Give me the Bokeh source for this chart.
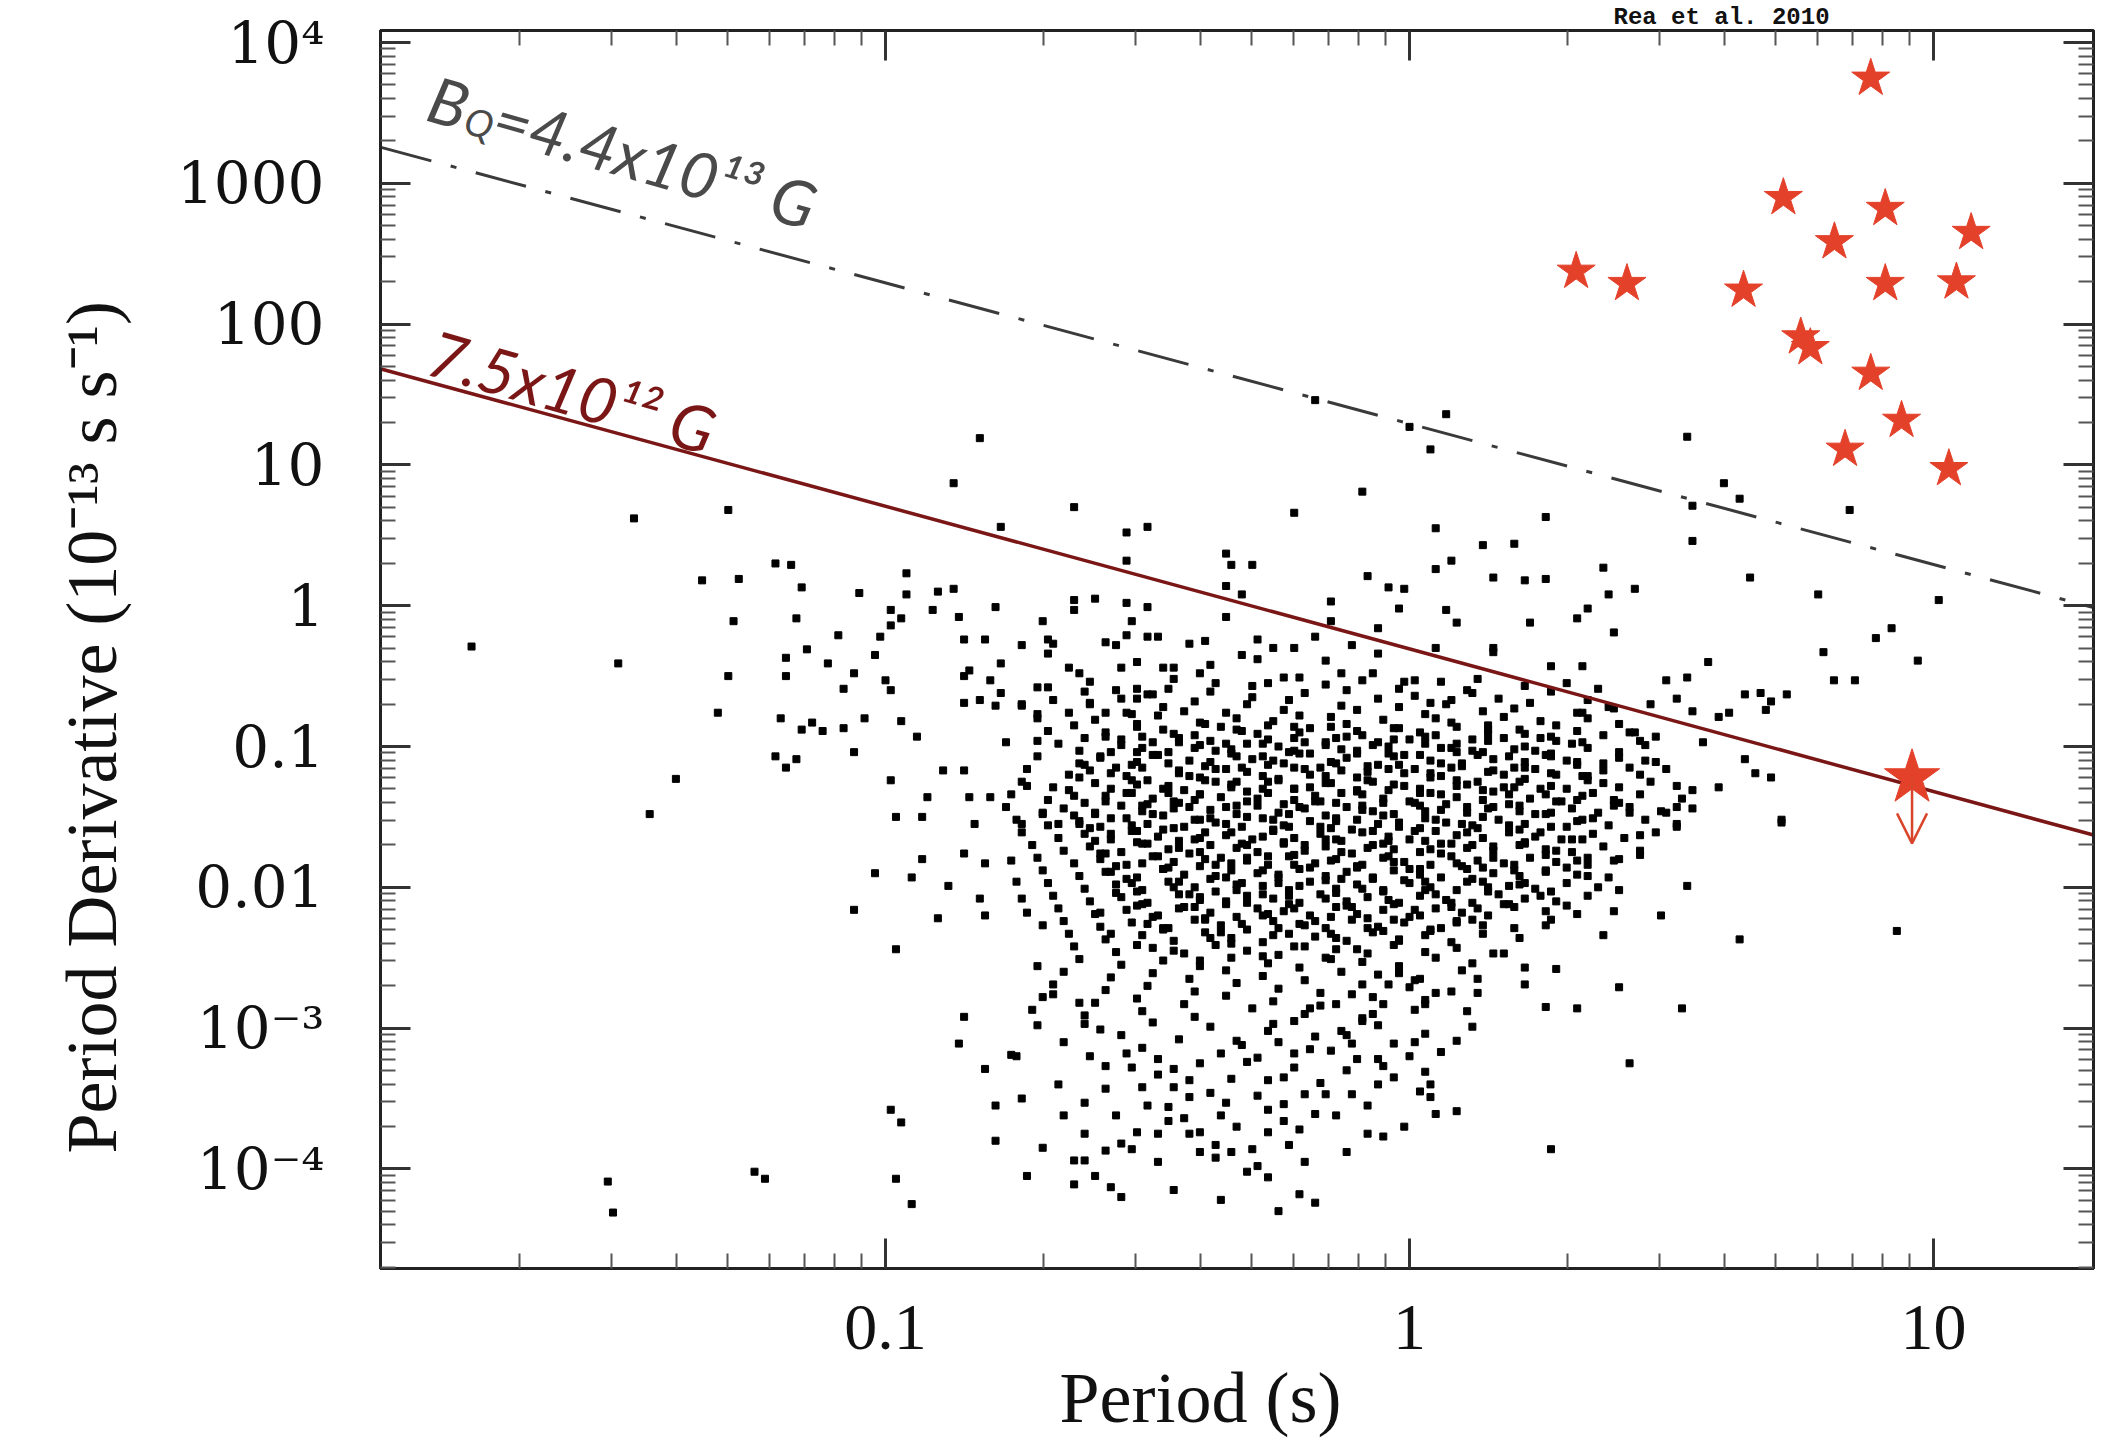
import math
from bokeh.plotting import figure
from bokeh.layouts import column
from bokeh.models import (Range1d, FixedTicker, LogAxis, Label, Arrow, OpenHead, Title, Div,
                          CustomJSTickFormatter, ColumnDataSource)
from bokeh.embed import file_html
from bokeh.resources import INLINE

# ---------------- data ----------------
x_tick_values = [0.1, 1, 10]
x_tick_labels = ["0.1", "1", "10"]
y_tick_values = [1e-4, 1e-3, 0.01, 0.1, 1, 10, 100, 1000, 1e4]
y_tick_labels = ["10\u207b\u2074", "10\u207b\u00b3", "0.01", "0.1", "1", "10", "100", "1000", "10\u2074"]

# magnetars (red stars): period [s], period derivative [1e-13 s/s]
magnetar_period = [7.59, 5.17, 8.09, 11.8, 6.47, 2.08, 2.60, 4.34, 8.09, 11.06, 5.58, 5.82, 7.59, 8.69, 6.78, 10.7]
magnetar_pdot = [5570, 791, 662, 447, 384, 237, 194, 174, 194, 199, 81, 68, 44.7, 20.7, 12.9, 9.4]
# SGR 0418+5729 upper limit (big star + arrow)
sgr_period = [9.1]
sgr_pdot = [0.060]
sgr_arrow_end = [0.0205]

# field lines
bq_line_period = [0.0109, 20.2]
bq_line_pdot = [1800, 0.97]
b75_line_period = [0.0109, 20.2]
b75_line_pdot = [48, 0.0235]

# radio pulsars: (log10 P, log10 Pdot)
pulsar_log_points = [
    # sparse, upper middle
    (-0.82,1.19),(-0.87,0.87),(-0.64,0.70),(-0.78,0.56),(-0.54,0.52),(-0.50,0.56),(-0.54,0.32),(-0.35,0.37),(-0.34,0.29),(-0.30,0.29),
    (-0.35,0.14),(-0.32,0.08),(-0.35,-0.08),(-0.22,0.66),(-0.09,0.81),(0.07,1.36),(0.04,1.11),(-0.18,1.46),(0.00,1.27),(0.05,0.55),
    (0.14,0.43),(0.20,0.44),(0.16,0.20),(0.05,0.26),(0.08,0.32),(-0.08,0.21),(-0.04,0.13),(-0.01,0.12),(-0.02,-0.02),(-0.15,0.03),
    (0.07,-0.03),(0.09,-0.12),(-0.06,-0.16),(-0.15,-0.11),(-0.18,-0.22),(0.16,-0.30),(0.16,-0.33),(-0.06,-0.34),(-0.11,-0.28),(0.05,-0.30),
    (0.11,-0.60),(0.08,-0.67),(-0.01,-0.54),(0.01,-0.53),(-0.07,-0.48),(-0.13,-0.48),(-0.16,-0.39),(-0.21,-0.51),(-0.27,-0.55),(-0.29,-0.38),
    (-0.29,-0.24),(-0.26,-0.30),(-0.22,-0.30),(-0.32,-0.35),(-0.39,-0.25),(-0.42,-0.27),(-0.38,-0.42),(-0.40,-0.48),(-0.46,-0.59),(-0.50,-0.63),
    (-0.52,-0.66),(-0.56,-0.60),(-0.55,-0.44),(-0.52,-0.40),(-0.47,-0.44),(-0.45,-0.44),(-0.50,-0.22),(-0.48,-0.22),(-0.54,-0.21),(-0.56,-0.28),
    (-0.58,-0.26),(-0.53,-0.11),(-0.64,0.04),(-0.60,0.05),(-0.64,-0.03),(-0.54,0.02),(-0.50,-0.01),(-0.70,-0.11),(-0.79,-0.01),(-0.86,-0.08),
    (-0.87,0.12),(-0.85,-0.24),(-0.81,-0.24),(-0.74,-0.28),(-0.69,-0.24),(-0.68,-0.27),(-0.69,-0.34),(-0.78,-0.41),(-0.85,-0.50),(-0.84,-0.46),
    (-0.71,-0.58),(-0.65,-0.44),(-0.63,-0.48),(-0.79,-0.71),(-0.85,-0.69),(-0.82,-0.67),(-0.74,-0.70),(-0.71,-0.77),(-0.61,-0.69),(-0.58,-0.76),
    (-0.54,-0.76),(-0.77,-0.97),(-0.71,-0.96),(-0.85,-1.17),(-0.80,-1.36),(-0.84,-1.36),(-0.83,-1.55),(-0.73,-1.28),(-0.70,-1.48),(-0.74,-1.55),
    (-0.67,-1.55),(-0.63,-1.55),
    # left side
    (-1.48,0.62),(-1.30,0.68),(-1.79,-0.29),(-1.51,-0.41),(-1.35,0.18),(-1.28,0.19),(-1.21,0.30),(-1.18,0.29),(-1.16,0.13),(-1.29,-0.11),
    (-1.17,-0.09),(-1.05,0.09),(-0.96,0.23),(-0.96,0.08),(-0.90,0.10),(-0.91,-0.03),(-0.99,-0.03),(-0.97,-0.09),(-0.99,-0.14),(-1.09,-0.21),
    (-1.01,-0.22),(-1.15,-0.31),(-1.19,-0.37),(-1.02,-0.35),(-1.11,-0.41),(-1.30,-0.50),(-1.19,-0.50),(-1.06,-0.48),(-1.08,-0.59),(-1.00,-0.53),
    (-0.99,-0.60),(-1.32,-0.76),(-1.20,-0.80),(-1.16,-0.88),(-1.14,-0.83),(-1.12,-0.89),(-1.08,-0.87),(-1.04,-0.80),(-0.97,-0.82),(-0.94,-0.93),
    (-1.21,-1.07),(-1.17,-1.09),(-1.19,-1.15),(-1.06,-1.04),(-0.89,-1.17),(-1.40,-1.23),(-0.99,-1.24),(-1.45,-1.48),(-0.98,-1.50),(-0.93,-1.50),
    (-0.92,-1.36),
    (-1.53,-4.09),(-1.52,-4.31),(-1.25,-4.02),(-1.23,-4.07),(-0.98,-4.07),(-0.95,-4.25),(-0.99,-3.58),(-0.97,-3.67),(-1.06,-2.16),(-1.02,-1.90),
    (-0.95,-1.93),(-0.93,-1.80),(-0.90,-2.22),(-0.98,-2.44),(-0.88,-1.99),
    # right tail
    (0.53,1.20),(0.60,0.87),(0.63,0.76),(0.54,0.71),(0.84,0.68),(0.26,0.63),(0.54,0.46),(0.37,0.27),(0.65,0.20),(0.26,0.19),
    (0.22,0.18),(0.78,0.08),(1.01,0.04),(0.38,0.08),(0.43,0.12),(0.34,-0.02),(0.32,-0.09),(0.23,-0.12),(0.39,-0.19),(0.92,-0.16),
    (0.89,-0.23),(0.79,-0.33),(0.97,-0.39),(0.57,-0.40),(0.27,-0.43),(0.33,-0.43),(0.49,-0.53),(0.53,-0.51),(0.81,-0.53),(0.85,-0.53),
    (0.36,-0.59),(0.51,-0.66),(0.54,-0.75),(0.64,-0.63),(0.67,-0.62),(0.72,-0.63),(0.69,-0.68),(0.68,-0.74),(0.61,-0.76),(0.59,-0.79),
    (0.46,-0.70),(0.39,-0.73),(0.33,-0.76),(0.56,-0.97),(0.64,-1.09),(0.66,-1.19),(0.69,-1.22),(0.54,-1.31),(0.59,-1.29),(0.71,-1.52),
    (0.51,-1.43),(0.49,-1.47),(0.42,-1.47),(0.40,-1.40),(0.47,-0.93),(0.45,-1.10),(0.44,-0.96),(0.42,-0.90),
    (0.51,-1.57),(0.71,-1.54),(0.53,-1.99),(0.48,-2.20),(0.63,-2.37),(0.93,-2.31),(0.52,-2.86),(0.42,-3.25),(0.27,-3.86),(0.40,-2.71),
    (0.32,-2.86),(0.26,-2.85),(0.28,-2.58),(0.37,-2.34),(0.39,-2.17),(0.40,-2.02),(0.44,-1.77),(0.39,-1.81),(0.44,-1.63),(0.34,-1.92),
    (0.32,-1.81),(0.26,-2.27),(0.30,-2.13),(0.22,-2.57),(0.22,-2.69),
    # lower part
    (-0.25,-4.30),(-0.18,-4.24),(-0.21,-4.18),(-0.45,-4.15),(-0.55,-4.20),(-0.57,-4.13),(-0.60,-4.05),(-0.64,-4.11),(-0.73,-4.05),(-0.64,-3.94),
    (-0.62,-3.94),(-0.79,-3.80),(-0.58,-3.87),(-0.55,-3.82),(-0.53,-3.86),(-0.52,-3.74),(-0.48,-3.75),(-0.46,-3.66),(-0.42,-3.75),(-0.40,-3.74),
    (-0.37,-3.83),(-0.37,-3.92),(-0.34,-3.88),(-0.30,-3.86),(-0.29,-3.98),(-0.27,-4.06),(-0.23,-3.83),(-0.27,-3.74),(-0.24,-3.66),(-0.24,-3.54),
    (-0.08,-3.75),(-0.05,-3.77),(0.05,-3.61),(0.09,-3.59),(0.04,-3.49),(0.04,-3.40),(0.03,-3.31),(-0.18,-3.61),(-0.20,-3.47),(-0.16,-3.47),
    (-0.11,-3.47),(-0.06,-3.40),(-0.12,-3.30),(-0.05,-3.27),(-0.06,-3.22),(-0.36,-3.62),(-0.35,-3.53),(-0.38,-3.46),(-0.42,-3.49),(-0.46,-3.56),
    (-0.51,-3.42),(-0.58,-3.43),(-0.62,-3.53),(-0.66,-3.62),(-0.67,-3.40),(-0.74,-3.50),(-0.79,-3.55),(-0.81,-3.29),(-0.75,-3.20),(-0.86,-3.11),
    (-0.85,-2.92),(-0.68,-2.76),(-0.63,-2.82),(-0.61,-3.20),(-0.59,-3.01),(-0.54,-3.18),(-0.53,-3.28),(-0.48,-3.33),(-0.48,-3.22),(-0.45,-3.29),
    (-0.42,-3.37),(-0.36,-3.18),(-0.33,-3.09),(-0.31,-3.24),(-0.29,-3.21),(-0.27,-3.37),(-0.24,-3.35),(-0.27,-3.02),(-0.25,-3.10),(-0.22,-3.18),
    (-0.22,-2.95),(-0.19,-2.86),(-0.18,-3.06),(-0.15,-3.16),(-0.13,-3.02),(-0.11,-3.11),(-0.09,-2.95),(-0.07,-2.90),(-0.14,-2.83),(-0.11,-2.76),
    (-0.05,-2.83),(-0.03,-3.11),(0.01,-3.10),(0.03,-3.04),(0.06,-3.17),(0.09,-3.09),(0.12,-2.99),(0.11,-2.88),(0.13,-2.75),(0.05,-2.75),
    (0.03,-2.83),(0.01,-2.66),(0.13,-2.65),(0.18,-2.47),(-0.04,-2.69),(-0.02,-2.61),
    (-0.85,-1.76),(-0.81,-1.83),(-0.82,-2.08),(-0.81,-2.20),(-0.76,-1.81),(-0.75,-1.96),(-0.74,-2.08),(-0.73,-2.18),(-0.70,-2.27),(-0.71,-2.56),
    (-0.76,-3.19),
    (-0.62,-2.97),(-0.55,-3.05),(-0.49,-2.96),(-0.44,-3.08),(-0.38,-2.99),(-0.32,-3.12),(-0.26,-2.97),(-0.19,-3.15),(-0.12,-3.05),(-0.06,-2.98),
    (0.00,-3.20),(-0.58,-3.27),(-0.51,-3.14),(-0.45,-3.42),(-0.40,-3.25),(-0.34,-3.36),(-0.29,-3.48),(-0.22,-3.28),(-0.17,-3.39),(-0.10,-3.22),
    (-0.03,-3.35),(0.02,-3.45),(-0.56,-3.62),(-0.50,-3.55),(-0.43,-3.64),(-0.33,-3.70),(-0.27,-3.58),(-0.21,-3.72),(-0.14,-3.62),(-0.08,-3.55),
    (-0.01,-3.70),(-0.48,-3.95),(-0.40,-3.88),(-0.31,-4.02),(-0.20,-3.95),(-0.12,-3.88),(-0.36,-4.22),(-0.70,-3.85),(-0.62,-3.75),(-0.71,-2.98),
    (-0.66,-3.10),
    # dense core
    (-0.80,-0.53),(-0.69,-0.58),(-0.61,-0.54),(-0.52,-0.59),(-0.45,-0.52),(-0.37,-0.55),(-0.30,-0.57),(-0.24,-0.51),(-0.16,-0.56),(-0.09,-0.53),
    (-0.02,-0.59),(0.06,-0.54),(0.13,-0.52),(0.22,-0.57),(0.30,-0.55),
    (-0.78,-0.62),(-0.68,-0.67),(-0.62,-0.61),(-0.55,-0.66),(-0.49,-0.63),(-0.41,-0.68),(-0.38,-0.61),(-0.30,-0.65),(-0.23,-0.67),(-0.20,-0.62),
    (-0.12,-0.60),(-0.06,-0.66),(0.01,-0.64),(0.04,-0.69),(0.12,-0.62),(0.17,-0.66),(0.27,-0.61),(0.34,-0.67),
    (-0.74,-0.71),(-0.65,-0.76),(-0.61,-0.70),(-0.53,-0.77),(-0.47,-0.72),(-0.43,-0.75),(-0.35,-0.76),(-0.31,-0.70),(-0.24,-0.74),(-0.21,-0.78),
    (-0.13,-0.71),(-0.10,-0.74),(-0.02,-0.72),(0.03,-0.77),(0.07,-0.70),(0.14,-0.75),(0.20,-0.73),(0.23,-0.69),(0.32,-0.76),(0.38,-0.72),
    (-0.71,-0.80),(-0.64,-0.85),(-0.60,-0.81),(-0.52,-0.84),(-0.48,-0.78),(-0.40,-0.83),(-0.36,-0.86),(-0.33,-0.80),(-0.26,-0.82),(-0.22,-0.86),
    (-0.15,-0.79),(-0.12,-0.84),(-0.05,-0.81),(-0.02,-0.87),(0.05,-0.80),(0.08,-0.83),(0.15,-0.85),(0.18,-0.79),(0.25,-0.82),(0.28,-0.85),
    (0.34,-0.80),(0.40,-0.84),
    (-0.69,-0.89),(-0.62,-0.94),(-0.58,-0.90),(-0.51,-0.93),(-0.47,-0.88),(-0.41,-0.92),(-0.38,-0.96),(-0.32,-0.89),(-0.29,-0.91),(-0.22,-0.94),
    (-0.19,-0.87),(-0.12,-0.93),(-0.10,-0.89),(-0.03,-0.95),(0.02,-0.90),(0.05,-0.92),(0.12,-0.95),(0.15,-0.88),(0.22,-0.91),(0.25,-0.94),
    (0.32,-0.89),(0.37,-0.92),(0.43,-0.90),
    (-0.67,-0.98),(-0.63,-1.03),(-0.55,-0.99),(-0.52,-1.04),(-0.44,-0.97),(-0.41,-1.01),(-0.34,-1.05),(-0.31,-0.98),(-0.25,-1.00),(-0.23,-1.04),
    (-0.16,-0.97),(-0.13,-1.02),(-0.07,-0.99),(-0.04,-1.05),(0.03,-0.98),(0.06,-1.01),(0.12,-1.03),(0.15,-0.96),(0.22,-1.00),(0.24,-1.03),
    (0.31,-0.98),(0.34,-1.01),(0.40,-1.04),(0.45,-0.99),
    (-0.71,-1.07),(-0.63,-1.12),(-0.59,-1.08),(-0.52,-1.11),(-0.49,-1.06),(-0.42,-1.10),(-0.39,-1.14),(-0.33,-1.07),(-0.30,-1.09),(-0.24,-1.12),
    (-0.21,-1.05),(-0.15,-1.11),(-0.12,-1.08),(-0.06,-1.13),(-0.03,-1.07),(0.04,-1.10),(0.06,-1.12),(0.13,-1.06),(0.16,-1.09),(0.22,-1.11),
    (0.27,-1.07),(0.30,-1.10),(0.37,-1.12),(0.40,-1.08),(0.47,-1.11),
    (-0.73,-1.16),(-0.65,-1.20),(-0.61,-1.17),(-0.54,-1.21),(-0.51,-1.15),(-0.44,-1.19),(-0.40,-1.22),(-0.37,-1.16),(-0.31,-1.18),(-0.28,-1.21),
    (-0.22,-1.15),(-0.19,-1.20),(-0.13,-1.17),(-0.10,-1.22),(-0.04,-1.16),(-0.01,-1.19),(0.06,-1.21),(0.08,-1.15),(0.15,-1.18),(0.18,-1.20),
    (0.24,-1.16),(0.27,-1.19),(0.34,-1.21),(0.37,-1.17),(0.44,-1.20),(0.49,-1.16),
    (-0.74,-1.25),(-0.68,-1.29),(-0.60,-1.26),(-0.57,-1.30),(-0.50,-1.24),(-0.46,-1.28),(-0.43,-1.31),(-0.37,-1.25),(-0.34,-1.27),(-0.28,-1.30),
    (-0.25,-1.24),(-0.19,-1.29),(-0.16,-1.26),(-0.10,-1.31),(-0.07,-1.25),(-0.01,-1.28),(0.02,-1.30),(0.09,-1.24),(0.11,-1.27),(0.18,-1.29),
    (0.21,-1.25),(0.27,-1.28),(0.30,-1.30),(0.37,-1.26),(0.40,-1.29),(0.46,-1.25),(0.51,-1.28),
    (-0.76,-1.34),(-0.69,-1.38),(-0.64,-1.35),(-0.58,-1.39),(-0.53,-1.33),(-0.49,-1.37),(-0.44,-1.40),(-0.40,-1.34),(-0.36,-1.36),(-0.31,-1.39),
    (-0.27,-1.33),(-0.22,-1.38),(-0.18,-1.35),(-0.14,-1.40),(-0.09,-1.34),(-0.05,-1.37),(0.00,-1.39),(0.04,-1.33),(0.09,-1.36),(0.14,-1.38),
    (0.19,-1.34),(0.23,-1.37),(0.29,-1.39),(0.33,-1.35),(0.39,-1.38),(0.44,-1.34),(0.52,-1.37),
    (-0.77,-1.43),(-0.70,-1.47),(-0.66,-1.44),(-0.60,-1.48),(-0.55,-1.42),(-0.51,-1.46),(-0.47,-1.49),(-0.42,-1.43),(-0.38,-1.45),(-0.33,-1.48),
    (-0.29,-1.42),(-0.25,-1.47),(-0.20,-1.44),(-0.16,-1.49),(-0.12,-1.43),(-0.07,-1.46),(-0.03,-1.48),(0.02,-1.42),(0.06,-1.45),(0.11,-1.47),
    (0.16,-1.43),(0.21,-1.46),(0.26,-1.48),(0.31,-1.44),(0.36,-1.47),(0.42,-1.43),(0.48,-1.46),(0.54,-1.44),
    (-0.75,-1.52),(-0.69,-1.56),(-0.63,-1.53),(-0.59,-1.57),(-0.54,-1.51),(-0.50,-1.55),(-0.45,-1.58),(-0.41,-1.52),(-0.37,-1.54),(-0.32,-1.57),
    (-0.28,-1.51),(-0.24,-1.56),(-0.19,-1.53),(-0.15,-1.58),(-0.10,-1.52),(-0.06,-1.55),(-0.02,-1.57),(0.03,-1.51),(0.07,-1.54),(0.12,-1.56),
    (0.17,-1.52),(0.22,-1.55),(0.27,-1.57),(0.32,-1.53),(0.38,-1.56),(0.45,-1.52),(0.51,-1.55),
    (-0.74,-1.61),(-0.67,-1.65),(-0.62,-1.62),(-0.57,-1.66),(-0.52,-1.60),(-0.48,-1.64),(-0.44,-1.67),(-0.39,-1.61),(-0.35,-1.63),(-0.30,-1.66),
    (-0.26,-1.60),(-0.22,-1.65),(-0.17,-1.62),(-0.13,-1.67),(-0.09,-1.61),(-0.04,-1.64),(0.00,-1.66),(0.05,-1.60),(0.09,-1.63),(0.14,-1.65),
    (0.19,-1.61),(0.24,-1.64),(0.29,-1.66),(0.35,-1.62),(0.41,-1.65),(0.47,-1.61),
    (-0.72,-1.70),(-0.66,-1.74),(-0.61,-1.71),(-0.55,-1.75),(-0.51,-1.69),(-0.46,-1.73),(-0.42,-1.76),(-0.38,-1.70),(-0.33,-1.72),(-0.29,-1.75),
    (-0.24,-1.69),(-0.20,-1.74),(-0.16,-1.71),(-0.11,-1.76),(-0.07,-1.70),(-0.03,-1.73),(0.02,-1.75),(0.06,-1.69),(0.11,-1.72),(0.16,-1.74),
    (0.21,-1.70),(0.26,-1.73),(0.31,-1.75),(0.37,-1.71),(0.44,-1.74),
    (-0.71,-1.79),(-0.64,-1.83),(-0.59,-1.80),(-0.54,-1.84),(-0.49,-1.78),(-0.45,-1.82),(-0.40,-1.85),(-0.36,-1.79),(-0.31,-1.81),(-0.27,-1.84),
    (-0.23,-1.78),(-0.18,-1.83),(-0.14,-1.80),(-0.10,-1.85),(-0.05,-1.79),(-0.01,-1.82),(0.04,-1.84),(0.08,-1.78),(0.13,-1.81),(0.18,-1.83),
    (0.23,-1.79),(0.28,-1.82),(0.34,-1.84),(0.40,-1.80),
    (-0.70,-1.88),(-0.63,-1.92),(-0.57,-1.89),(-0.52,-1.93),(-0.47,-1.87),(-0.43,-1.91),(-0.38,-1.94),(-0.34,-1.88),(-0.29,-1.90),(-0.25,-1.93),
    (-0.21,-1.87),(-0.16,-1.92),(-0.12,-1.89),(-0.07,-1.94),(-0.03,-1.88),(0.02,-1.91),(0.06,-1.93),(0.11,-1.87),(0.16,-1.90),(0.21,-1.92),
    (0.26,-1.88),(0.32,-1.91),(0.38,-1.93),
    (-0.69,-1.97),(-0.62,-2.01),(-0.56,-1.98),(-0.51,-2.02),(-0.46,-1.96),(-0.41,-2.00),(-0.37,-2.03),(-0.32,-1.97),(-0.28,-1.99),(-0.23,-2.02),
    (-0.19,-1.96),(-0.14,-2.01),(-0.10,-1.98),(-0.05,-2.03),(0.00,-1.97),(0.04,-2.00),(0.09,-2.02),(0.14,-1.96),(0.19,-1.99),(0.24,-2.01),
    (0.30,-1.97),(0.36,-2.00),
    (-0.68,-2.06),(-0.61,-2.10),(-0.55,-2.07),(-0.50,-2.11),(-0.44,-2.05),(-0.40,-2.09),(-0.35,-2.12),(-0.31,-2.06),(-0.26,-2.08),(-0.21,-2.11),
    (-0.17,-2.05),(-0.12,-2.10),(-0.08,-2.07),(-0.03,-2.12),(0.02,-2.06),(0.07,-2.09),(0.12,-2.11),(0.17,-2.05),(0.22,-2.08),(0.28,-2.10),
    (0.34,-2.06),
    (-0.67,-2.15),(-0.60,-2.19),(-0.54,-2.16),(-0.48,-2.20),(-0.43,-2.14),(-0.38,-2.18),(-0.33,-2.21),(-0.29,-2.15),(-0.24,-2.17),(-0.19,-2.20),
    (-0.14,-2.14),(-0.10,-2.19),(-0.05,-2.16),(0.00,-2.21),(0.05,-2.15),(0.10,-2.18),(0.15,-2.20),(0.20,-2.14),(0.26,-2.17),(0.32,-2.19),
    (-0.66,-2.24),(-0.59,-2.28),(-0.53,-2.25),(-0.47,-2.29),(-0.41,-2.23),(-0.36,-2.27),(-0.31,-2.30),(-0.26,-2.24),(-0.21,-2.26),(-0.16,-2.29),
    (-0.11,-2.23),(-0.06,-2.28),(-0.01,-2.25),(0.04,-2.30),(0.09,-2.24),(0.14,-2.27),(0.20,-2.29),(0.27,-2.23),
    (-0.65,-2.33),(-0.58,-2.37),(-0.51,-2.34),(-0.45,-2.38),(-0.39,-2.32),(-0.34,-2.36),(-0.28,-2.39),(-0.23,-2.33),(-0.18,-2.35),(-0.12,-2.38),
    (-0.07,-2.32),(-0.02,-2.37),(0.03,-2.34),(0.08,-2.39),(0.14,-2.33),(0.21,-2.36),
    (-0.64,-2.42),(-0.56,-2.46),(-0.49,-2.43),(-0.43,-2.47),(-0.37,-2.41),(-0.31,-2.45),(-0.25,-2.48),(-0.20,-2.42),(-0.14,-2.44),(-0.08,-2.47),
    (-0.03,-2.41),(0.03,-2.46),(0.09,-2.43),(0.16,-2.47),
    (-0.63,-2.51),(-0.55,-2.55),(-0.47,-2.52),(-0.40,-2.56),(-0.34,-2.50),(-0.27,-2.54),(-0.21,-2.57),(-0.15,-2.51),(-0.09,-2.53),(-0.02,-2.56),
    (0.05,-2.50),(0.12,-2.54),
    (-0.66,-2.60),(-0.57,-2.64),(-0.49,-2.61),(-0.42,-2.65),(-0.35,-2.59),(-0.28,-2.63),(-0.20,-2.66),(-0.13,-2.60),(-0.06,-2.62),(0.02,-2.65),
    (0.10,-2.59),
    (-0.68,-2.69),(-0.58,-2.73),(-0.50,-2.70),(-0.41,-2.74),(-0.33,-2.68),(-0.25,-2.72),(-0.17,-2.75),(-0.09,-2.69),(0.00,-2.71),(0.08,-2.74),
    (-0.70,-2.78),(-0.60,-2.82),(-0.52,-2.79),(-0.43,-2.83),(-0.35,-2.77),(-0.26,-2.81),(-0.17,-2.84),(-0.07,-2.78),(0.03,-2.80),
    (-0.72,-2.87),(-0.62,-2.91),(-0.51,-2.88),(-0.41,-2.92),(-0.30,-2.86),(-0.20,-2.90),(-0.09,-2.93),(0.01,-2.87),
    # extra core fill
    (-0.55,-0.95),(-0.49,-0.97),(-0.44,-0.94),(-0.35,-0.98),(-0.27,-0.95),(-0.20,-0.97),(-0.14,-0.94),(-0.06,-0.97),(0.00,-0.95),(0.09,-0.98),
    (0.18,-0.94),(0.28,-0.96),
    (-0.57,-1.04),(-0.48,-1.06),(-0.37,-1.03),(-0.28,-1.07),(-0.19,-1.05),(-0.10,-1.03),(-0.01,-1.06),(0.09,-1.04),(0.19,-1.07),(0.27,-1.05),
    (-0.62,-1.13),(-0.56,-1.15),(-0.46,-1.12),(-0.35,-1.16),(-0.27,-1.13),(-0.17,-1.15),(-0.08,-1.14),(0.01,-1.16),(0.10,-1.12),(0.20,-1.15),
    (0.32,-1.13),(0.42,-1.15),
    (-0.63,-1.22),(-0.53,-1.24),(-0.42,-1.21),(-0.33,-1.25),(-0.25,-1.23),(-0.16,-1.21),(-0.08,-1.24),(0.04,-1.22),(0.13,-1.25),(0.22,-1.23),
    (0.33,-1.21),
    (-0.65,-1.31),(-0.54,-1.33),(-0.47,-1.30),(-0.40,-1.34),(-0.31,-1.32),(-0.22,-1.30),(-0.13,-1.33),(-0.04,-1.31),(0.06,-1.34),(0.16,-1.32),
    (0.25,-1.30),(0.35,-1.33),
    (-0.62,-1.40),(-0.51,-1.42),(-0.45,-1.39),(-0.35,-1.43),(-0.24,-1.41),(-0.18,-1.39),(-0.09,-1.42),(0.01,-1.40),(0.11,-1.43),(0.19,-1.41),
    (0.28,-1.39),(0.39,-1.42),
    (-0.64,-1.49),(-0.57,-1.51),(-0.49,-1.48),(-0.40,-1.52),(-0.31,-1.50),(-0.23,-1.48),(-0.14,-1.51),(-0.05,-1.49),(0.05,-1.52),(0.14,-1.50),
    (0.24,-1.48),(0.35,-1.51),
    (-0.61,-1.58),(-0.53,-1.60),(-0.43,-1.57),(-0.34,-1.61),(-0.26,-1.59),(-0.17,-1.57),(-0.07,-1.60),(0.02,-1.58),(0.11,-1.61),(0.21,-1.59),
    (0.30,-1.57),
    (-0.60,-1.67),(-0.50,-1.69),(-0.41,-1.66),(-0.31,-1.70),(-0.24,-1.68),(-0.14,-1.66),(-0.05,-1.69),(0.03,-1.67),(0.12,-1.70),(0.22,-1.68),
    (0.33,-1.66),
    (-0.58,-1.76),(-0.48,-1.78),(-0.40,-1.75),(-0.31,-1.79),(-0.22,-1.77),(-0.13,-1.75),(-0.04,-1.78),(0.06,-1.76),(0.16,-1.79),(0.26,-1.77),
    (-0.56,-1.85),(-0.47,-1.87),(-0.37,-1.84),(-0.28,-1.88),(-0.19,-1.86),(-0.09,-1.84),(0.00,-1.87),(0.10,-1.85),(0.20,-1.88),(0.30,-1.86),
    (-0.54,-1.94),(-0.44,-1.96),(-0.35,-1.93),(-0.25,-1.97),(-0.16,-1.95),(-0.07,-1.93),(0.03,-1.96),(0.12,-1.94),(0.22,-1.97),
    (-0.52,-2.03),(-0.42,-2.05),(-0.33,-2.02),(-0.23,-2.06),(-0.14,-2.04),(-0.05,-2.02),(0.05,-2.05),(0.15,-2.03),(0.25,-2.06),
    (-0.51,-2.12),(-0.41,-2.14),(-0.31,-2.11),(-0.22,-2.15),(-0.12,-2.13),(-0.02,-2.11),(0.08,-2.14),(0.18,-2.12),
    (-0.49,-2.21),(-0.39,-2.23),(-0.28,-2.20),(-0.18,-2.24),(-0.08,-2.22),(0.02,-2.20),(0.12,-2.23),
    (-0.47,-2.30),(-0.36,-2.32),(-0.25,-2.29),(-0.15,-2.33),(-0.05,-2.31),(0.06,-2.29),
    # core, column-wise
    (-0.58,-0.93),(-0.59,-1.07),(-0.57,-1.19),(-0.58,-1.35),(-0.60,-1.47),(-0.57,-1.62),(-0.59,-1.76),(-0.58,-1.89),(-0.56,-2.04),(-0.59,-2.18),
    (-0.57,-2.33),
    (-0.52,-0.86),(-0.51,-1.01),(-0.53,-1.13),(-0.52,-1.27),(-0.50,-1.41),(-0.53,-1.56),(-0.52,-1.68),(-0.51,-1.83),(-0.53,-1.97),(-0.52,-2.13),
    (-0.50,-2.26),(-0.52,-2.41),
    (-0.45,-0.91),(-0.46,-1.04),(-0.44,-1.17),(-0.46,-1.33),(-0.45,-1.44),(-0.47,-1.59),(-0.44,-1.72),(-0.46,-1.86),(-0.45,-2.00),(-0.44,-2.15),
    (-0.46,-2.29),(-0.45,-2.45),
    (-0.39,-0.84),(-0.40,-0.99),(-0.38,-1.11),(-0.39,-1.24),(-0.41,-1.38),(-0.38,-1.51),(-0.40,-1.65),(-0.39,-1.80),(-0.37,-1.92),(-0.40,-2.07),
    (-0.39,-2.22),(-0.38,-2.36),(-0.40,-2.52),
    (-0.33,-0.88),(-0.34,-1.02),(-0.32,-1.15),(-0.34,-1.29),(-0.33,-1.42),(-0.35,-1.55),(-0.32,-1.69),(-0.34,-1.83),(-0.33,-1.98),(-0.35,-2.10),
    (-0.32,-2.26),(-0.34,-2.40),
    (-0.27,-0.85),(-0.28,-0.98),(-0.26,-1.10),(-0.27,-1.25),(-0.29,-1.37),(-0.26,-1.52),(-0.28,-1.64),(-0.27,-1.78),(-0.25,-1.91),(-0.28,-2.05),
    (-0.27,-2.19),(-0.26,-2.34),(-0.28,-2.49),
    (-0.21,-0.90),(-0.22,-1.03),(-0.20,-1.16),(-0.22,-1.30),(-0.21,-1.43),(-0.23,-1.57),(-0.20,-1.70),(-0.22,-1.84),(-0.21,-1.99),(-0.23,-2.12),
    (-0.20,-2.27),(-0.22,-2.42),
    (-0.15,-0.86),(-0.16,-0.99),(-0.14,-1.12),(-0.15,-1.26),(-0.17,-1.39),(-0.14,-1.53),(-0.16,-1.66),(-0.15,-1.81),(-0.13,-1.94),(-0.16,-2.08),
    (-0.15,-2.21),(-0.14,-2.36),(-0.16,-2.50),
    (-0.09,-0.92),(-0.10,-1.05),(-0.08,-1.18),(-0.10,-1.32),(-0.09,-1.45),(-0.11,-1.59),(-0.08,-1.72),(-0.10,-1.86),(-0.09,-2.01),(-0.11,-2.14),
    (-0.08,-2.29),(-0.10,-2.44),
    (-0.03,-0.87),(-0.04,-1.00),(-0.02,-1.13),(-0.03,-1.27),(-0.05,-1.40),(-0.02,-1.54),(-0.04,-1.67),(-0.03,-1.82),(-0.01,-1.95),(-0.04,-2.09),
    (-0.03,-2.23),(-0.02,-2.38),
    (0.03,-0.93),(0.02,-1.06),(0.04,-1.19),(0.02,-1.33),(0.03,-1.46),(0.01,-1.60),(0.04,-1.73),(0.02,-1.87),(0.03,-2.02),(0.01,-2.16),
    (0.04,-2.31),
    (0.09,-0.86),(0.08,-1.01),(0.10,-1.14),(0.09,-1.28),(0.07,-1.41),(0.10,-1.55),(0.08,-1.69),(0.09,-1.83),(0.11,-1.96),(0.08,-2.11),
    (0.09,-2.25),
    (0.15,-0.91),(0.14,-1.04),(0.16,-1.17),(0.14,-1.31),(0.15,-1.44),(0.13,-1.58),(0.16,-1.71),(0.14,-1.86),(0.15,-2.00),(0.13,-2.15),
    (0.21,-0.88),(0.20,-1.02),(0.22,-1.15),(0.20,-1.29),(0.21,-1.42),(0.19,-1.56),(0.22,-1.69),(0.20,-1.84),(0.21,-1.98),(0.19,-2.12),
    (0.27,-0.93),(0.26,-1.06),(0.28,-1.20),(0.26,-1.34),(0.27,-1.47),(0.25,-1.61),(0.28,-1.74),(0.26,-1.89),(0.27,-2.03),
    (0.33,-0.97),(0.32,-1.11),(0.34,-1.24),(0.32,-1.38),(0.33,-1.52),(0.31,-1.66),(0.34,-1.79),
]

# ---------------- layout geometry (pixels of the 2102x1445 page) ----------------
W, H = 2102, 1441                                  # plot canvas (a 4 px rule sits below)
FX0, FX1, FY0, FY1 = 380, 2093, 30, 1268          # frame edges
LX0, LX1 = (FX0 - 1409) / 524.0, (FX1 - 1409) / 524.0
LY_TOP, LY_BOT = 4 - (FY0 - 42) / 140.8, 4 - (FY1 - 42) / 140.8


def at(xp, yp):
    """page pixel -> data coordinates (for annotation placement)"""
    lx = LX0 + (xp - FX0) / (FX1 - FX0) * (LX1 - LX0)
    ly = LY_TOP - (yp - FY0) / (FY1 - FY0) * (LY_TOP - LY_BOT)
    return 10 ** lx, 10 ** ly


p = figure(width=W, height=H, x_axis_type="log", y_axis_type="log",
           x_range=Range1d(10 ** LX0, 10 ** LX1), y_range=Range1d(10 ** LY_BOT, 10 ** LY_TOP),
           output_backend="svg", toolbar_location=None,
           min_border_left=FX0, min_border_right=W - FX1, min_border_top=FY0, min_border_bottom=H - FY1,
           background_fill_color="white", border_fill_color="white")
p.xgrid.visible = False
p.ygrid.visible = False
p.outline_line_color = "#222222"
p.outline_line_width = 3

x_minor = [m * 10 ** e for e in (-2, -1, 0) for m in range(2, 10)]
y_minor = [m * 10 ** e for e in range(-5, 4) for m in range(2, 10)]
xticker = FixedTicker(ticks=x_tick_values, minor_ticks=x_minor)
yticker = FixedTicker(ticks=y_tick_values, minor_ticks=y_minor)

top_axis = LogAxis()
right_axis = LogAxis()
p.add_layout(top_axis, "above")
p.add_layout(right_axis, "right")

for ax in (p.below[0], top_axis):
    ax.ticker = xticker
for ax in (p.left[0], right_axis):
    ax.ticker = yticker

for ax in (p.below[0], top_axis, p.left[0], right_axis):
    ax.major_tick_in = 30
    ax.major_tick_out = 0
    ax.minor_tick_in = 15
    ax.minor_tick_out = 0
    ax.major_tick_line_width = 3
    ax.minor_tick_line_width = 2
    ax.major_tick_line_color = "#333333"
    ax.minor_tick_line_color = "#555555"
    ax.axis_line_color = "#222222"
    ax.axis_line_width = 3

for ax in (top_axis, right_axis):
    ax.major_label_text_font_size = "1px"
    ax.major_label_text_alpha = 0.0
    ax.major_label_standoff = 0

xa = p.below[0]
xa.formatter = CustomJSTickFormatter(args=dict(labels=x_tick_labels),
                                     code="return labels[Math.round(Math.log10(tick)) + 1];")
xa.major_label_text_font = "Liberation Serif"
xa.major_label_text_font_size = "66px"
xa.major_label_text_color = "#111111"
xa.major_label_standoff = 37

ya = p.left[0]
ya.formatter = CustomJSTickFormatter(args=dict(labels=y_tick_labels),
                                     code="return labels[Math.round(Math.log10(tick)) + 4];")
ya.major_label_text_font = "DejaVu Serif"
ya.major_label_text_font_size = "58px"
ya.major_label_text_color = "#111111"
ya.major_label_standoff = 56

# axis titles and the header text live in the side panels
p.add_layout(Title(text="Period (s)", align="left", offset=1059 - FX0, standoff=8,
                   text_font="Liberation Serif", text_font_style="normal", text_font_size="72px",
                   text_color="#111111"), "below")
p.add_layout(Title(text="Period Derivative (10\u207b\u00b9\u00b3 s s\u207b\u00b9)", align="left",
                   offset=FY1 - 1153, standoff=84, text_font="Liberation Serif", text_font_style="normal",
                   text_font_size="72px", text_color="#111111"), "left")
p.add_layout(Title(text="Rea et al. 2010", align="left", offset=1613 - FX0, standoff=0,
                   text_font="Liberation Mono", text_font_style="bold", text_font_size="24px",
                   text_color="#111111"), "above")

# ---------------- glyphs ----------------
src = ColumnDataSource(dict(period=[10 ** a for a, b in pulsar_log_points],
                            pdot=[10 ** b for a, b in pulsar_log_points]))
p.scatter("period", "pdot", source=src, marker="square", size=7, color="black")

p.line(bq_line_period, bq_line_pdot, line_color="#3a3a3a", line_width=3, line_dash="52 20 6 20")
p.line(b75_line_period, b75_line_pdot, line_color="#7a1616", line_width=3.5)

star_red = "#e4412b"
p.scatter(magnetar_period, magnetar_pdot, marker="star", size=40,
          fill_color=star_red, line_color=star_red)
p.scatter(sgr_period, sgr_pdot, marker="star", size=58, fill_color=star_red, line_color=star_red)
p.add_layout(Arrow(end=OpenHead(size=30, line_color="#d9452b", line_width=2.5),
                   x_start=sgr_period[0], y_start=sgr_pdot[0],
                   x_end=sgr_period[0], y_end=sgr_arrow_end[0],
                   line_color="#d9452b", line_width=2.5))

# ---------------- line labels ----------------
def add_label(xp, yp, text, **kw):
    x, y = at(xp, yp)
    p.add_layout(Label(x=x, y=y, text=text, **kw))

ang = 16
th = math.radians(ang)
ux, uy = math.cos(th), math.sin(th)
nx, ny = -math.sin(th), math.cos(th)
bx, by = 430, 96
common = dict(text_font="Lato", text_font_style="italic", angle=-ang, angle_units="deg",
              text_align="left", text_baseline="alphabetic")
add_label(bx, by, "B", text_font_size="64px", text_color="#4a4a4a", **common)
add_label(bx + 40 * ux + 11 * nx, by + 40 * uy + 11 * ny, "Q", text_font_size="38px",
          text_color="#4a4a4a", **common)
add_label(bx + 68 * ux, by + 68 * uy, "=4.4x10\u00b9\u00b3 G", text_font_size="64px",
          text_color="#4a4a4a", **common)
add_label(430, 350, "7.5x10\u00b9\u00b2 G", text_font_size="64px", text_color="#7a1616", **common)

# black rule along the bottom edge of the page
rule = Div(width=W, height=4,
           text='<div style="margin:0 0 0 161px;width:%dpx;height:4px;background:#000"></div>' % (W - 161))
layout = column(p, rule)

open("out.html", "w").write(file_html(layout, INLINE))
